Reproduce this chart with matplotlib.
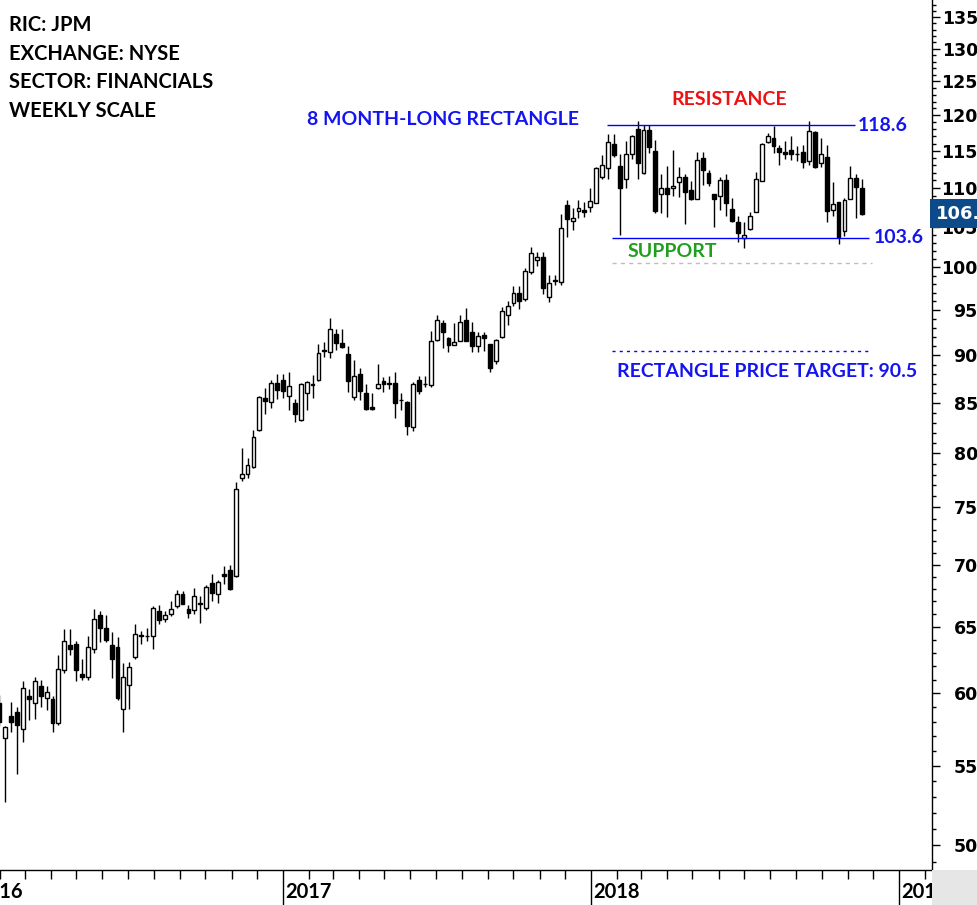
import datetime as dt
import matplotlib
matplotlib.use("Agg")
import matplotlib.pyplot as plt
import matplotlib.dates as mdates
import matplotlib.transforms as mtransforms
from matplotlib.patches import Rectangle
from matplotlib.ticker import FixedLocator, NullFormatter

# Weekly JPM candles, first bar is the week of 2016-01-31
first_week = dt.date(2016, 1, 31)

opens = [59.3, 56.85, 58.4, 58.7, 57.5, 59.8, 59.3, 60.5, 59.7, 59.6,
         57.9, 61.7, 63.6, 63.7, 61.4, 61.2, 63.3, 65.9, 64.9, 63.6,
         63.4, 58.9, 60.6, 62.7, 64.35, 64.3, 64.3, 66.2, 65.6, 66.0,
         66.6, 67.6, 66.4, 66.3, 66.8, 66.5, 68.5, 67.6, 69.2, 69.6,
         69.1, 77.7, 78.1, 78.7, 82.3, 85.5, 85.1, 87.1, 87.4, 85.7,
         85.0, 83.3, 86.0, 86.8, 87.4, 90.55, 90.3, 92.3, 91.3, 90.1,
         85.6, 88.0, 86.0, 84.55, 86.5, 87.3, 87.05, 87.05, 85.3, 85.1,
         82.6, 87.35, 86.9, 86.8, 91.7, 93.5, 91.9, 91.15, 91.6, 93.9,
         92.5, 91.0, 92.25, 91.2, 89.4, 92.0, 94.5, 95.8, 97.0, 96.3,
         99.4, 100.9, 101.3, 96.55, 98.4, 98.3, 107.75, 105.75, 107.0, 107.15,
         107.5, 108.0, 111.5, 112.6, 116.0, 112.9, 111.2, 114.5, 118.1, 112.0,
         117.9, 115.0, 109.2, 110.0, 109.95, 110.8, 111.5, 109.7, 108.55, 114.0,
         112.0, 109.2, 108.9, 111.06, 107.3, 105.6, 103.6, 104.65, 106.9, 110.95,
         116.2, 116.8, 115.4, 114.8, 115.1, 114.55, 114.8, 113.6, 117.6, 113.3,
         114.2, 107.15, 108.2, 104.4, 108.5, 111.3, 109.95]

highs = [59.9, 57.7, 59.4, 59.0, 60.9, 60.3, 61.2, 61.0, 60.5, 59.8,
         62.8, 64.8, 64.8, 63.9, 62.5, 64.3, 66.4, 66.2, 65.9, 64.6,
         64.2, 62.2, 62.3, 65.2, 64.7, 64.9, 66.6, 66.7, 66.2, 67.0,
         67.9, 67.8, 66.7, 68.1, 67.4, 68.3, 69.2, 68.7, 69.9, 70.0,
         77.3, 80.5, 79.6, 82.3, 85.7, 86.5, 87.4, 88.0, 88.0, 88.2,
         85.4, 87.1, 87.3, 87.9, 91.2, 91.4, 94.1, 92.9, 92.9, 91.0,
         89.5, 88.6, 87.0, 86.0, 89.1, 87.7, 87.8, 88.2, 86.0, 85.2,
         87.15, 87.8, 87.8, 92.7, 94.5, 93.9, 92.0, 93.6, 94.4, 95.2,
         93.7, 92.6, 92.5, 91.2, 91.8, 95.4, 96.0, 97.8, 97.8, 99.9,
         102.5, 101.9, 101.9, 99.1, 99.1, 106.65, 108.4, 107.4, 108.4, 108.2,
         110.0, 112.75, 114.4, 117.3, 117.3, 114.6, 116.35, 117.2, 119.2, 118.6,
         118.6, 116.5, 111.8, 112.9, 115.1, 112.75, 111.8, 110.9, 114.8, 114.8,
         112.4, 109.2, 111.5, 111.8, 108.65, 106.3, 105.6, 106.9, 112.15, 116.1,
         117.5, 118.5, 115.8, 116.3, 117.0, 115.7, 115.8, 119.2, 117.7, 116.8,
         115.8, 110.8, 108.2, 108.65, 112.9, 111.9, 111.15]

lows = [57.7, 52.7, 57.3, 54.5, 56.6, 58.1, 58.2, 59.0, 58.8, 57.3,
        57.8, 61.5, 62.8, 60.9, 61.0, 61.0, 63.0, 63.8, 63.8, 61.1,
        59.5, 57.3, 58.9, 62.5, 63.7, 63.9, 63.3, 65.2, 65.4, 65.8,
        66.5, 66.8, 65.7, 66.0, 65.3, 66.3, 67.0, 66.9, 68.4, 67.9,
        69.0, 77.4, 77.7, 78.6, 82.2, 83.9, 84.5, 85.4, 85.5, 84.3,
        83.1, 83.2, 84.3, 85.5, 87.3, 89.8, 89.7, 90.6, 90.8, 86.1,
        85.3, 85.3, 84.3, 84.3, 86.45, 86.1, 86.45, 83.5, 84.3, 81.8,
        82.2, 85.9, 86.6, 86.6, 91.6, 90.8, 90.4, 91.1, 91.55, 91.5,
        90.4, 90.4, 90.5, 88.2, 89.05, 91.9, 93.3, 95.5, 95.1, 96.06,
        99.2, 100.2, 96.9, 95.9, 97.9, 97.9, 103.7, 104.6, 106.1, 106.25,
        106.9, 108.0, 111.2, 111.2, 114.2, 104.0, 110.0, 113.9, 111.2, 111.8,
        114.7, 106.8, 106.7, 106.2, 108.9, 108.8, 105.3, 108.4, 108.5, 110.4,
        110.2, 105.0, 107.15, 106.3, 105.6, 103.1, 102.3, 104.6, 106.85, 110.9,
        116.1, 114.7, 113.0, 113.9, 113.8, 113.6, 112.7, 113.1, 112.6, 112.85,
        105.65, 106.3, 102.85, 103.8, 108.5, 106.1, 106.45]

closes = [58.0, 57.6, 58.0, 57.8, 60.4, 59.6, 60.9, 59.8, 60.1, 57.9,
          61.8, 63.9, 63.3, 61.7, 61.2, 63.4, 65.6, 64.9, 64.0, 62.5,
          59.7, 61.2, 61.9, 64.4, 64.3, 64.25, 66.5, 65.5, 65.9, 66.4,
          67.6, 66.8, 66.1, 67.4, 66.9, 68.2, 67.7, 68.6, 69.1, 68.0,
          76.7, 78.1, 78.9, 81.6, 85.6, 85.2, 87.1, 86.3, 86.2, 86.7,
          83.9, 87.0, 87.2, 87.0, 90.2, 90.45, 92.9, 91.3, 90.9, 87.3,
          87.8, 86.2, 84.4, 84.4, 87.0, 86.9, 86.9, 85.0, 85.35, 82.7,
          87.0, 86.2, 87.0, 91.5, 93.9, 92.5, 91.1, 91.4, 93.7, 91.6,
          91.0, 92.1, 91.9, 88.6, 91.65, 94.9, 95.5, 97.0, 96.0, 99.55,
          101.75, 101.3, 97.6, 98.1, 98.45, 104.85, 106.0, 106.1, 107.4, 106.9,
          108.3, 112.6, 113.0, 116.2, 114.4, 110.0, 114.5, 117.0, 113.4, 117.9,
          115.5, 107.05, 110.0, 109.2, 110.3, 111.4, 109.4, 108.5, 113.75, 112.4,
          110.7, 108.5, 111.06, 108.0, 105.7, 104.25, 104.0, 106.4, 111.15, 115.9,
          117.1, 115.7, 114.8, 114.55, 114.6, 114.5, 113.5, 117.8, 112.85, 114.6,
          107.05, 107.9, 103.65, 108.45, 111.3, 110.1, 106.65]

# chart levels
resistance = 118.6
support = 103.6
price_target = 90.5
stop_level = 100.5

info_lines = ["RIC: JPM", "EXCHANGE: NYSE", "SECTOR: FINANCIALS", "WEEKLY SCALE"]
y_major = list(range(50, 140, 5))
years = [2016, 2017, 2018, 2019]

BLUE = "#1414f0"
FONT = ["Lato", "DejaVu Sans"]


def d(y, m, day, h=0):
    return mdates.date2num(dt.datetime(y, m, day, h))


def draw_chart():
    fig = plt.figure(figsize=(9.78, 9.05), dpi=100)
    ax = fig.add_axes([0, 35 / 905, 932 / 978, 870 / 905])

    x = mdates.date2num([first_week + dt.timedelta(weeks=i) for i in range(len(opens))])

    ax.set_yscale("log")
    ax.set_ylim(48.55, 137.8)
    ax.set_xlim(d(2016, 1, 31, 19), d(2019, 2, 8, 17))

    # candles: wicks first, bodies on top
    ax.vlines(x, lows, highs, color="black", lw=1.0, zorder=2)
    bottoms = [min(o, c) for o, c in zip(opens, closes)]
    heights = [max(abs(c - o), 0.04) for o, c in zip(opens, closes)]
    faces = ["white" if c >= o else "black" for o, c in zip(opens, closes)]
    ax.bar(x, heights, bottom=bottoms, width=4.6, color=faces,
           edgecolor="black", linewidth=1.0, zorder=3)

    # rectangle lines
    ax.hlines(resistance, d(2018, 1, 20), d(2018, 11, 9), color="#0000ff", lw=1.0, zorder=4)
    ax.hlines(support, d(2018, 1, 26), d(2018, 11, 26), color="#0000ff", lw=1.0, zorder=4)
    ax.hlines(stop_level, d(2018, 1, 26), d(2018, 11, 30), color="#bdbdbd", lw=1.0,
              linestyles=(0, (3, 3)), zorder=1)
    ax.hlines(price_target, d(2018, 1, 26), d(2018, 11, 30), color="#0000ff", lw=1.0,
              linestyles=(0, (2.2, 3)), zorder=1)

    txt = dict(fontfamily=FONT, fontweight="bold", fontsize=14)
    ax.text(d(2017, 12, 18), resistance, "8 MONTH-LONG RECTANGLE", color=BLUE,
            ha="right", va="baseline", **txt)
    ax.text(d(2018, 6, 13), 121.5, "RESISTANCE", color="#ee1111", ha="center",
            va="baseline", **txt)
    ax.text(d(2018, 11, 13), resistance, f"{resistance:.1f}", color=BLUE,
            ha="left", va="center", **txt)
    ax.text(d(2018, 12, 2), support, f"{support:.1f}", color=BLUE,
            ha="left", va="center", **txt)
    ax.text(d(2018, 2, 13), 101.25, "SUPPORT", color="#1f9e1f", ha="left",
            va="baseline", **txt)
    ax.text(d(2018, 2, 1), 87.7, f"RECTANGLE PRICE TARGET: {price_target}", color=BLUE,
            ha="left", va="baseline", **txt)

    for k, line in enumerate(info_lines):
        fig.text(9 / 978, 1 - (30.7 + 28.9 * k) / 905, line, color="black",
                 ha="left", va="baseline", fontfamily=FONT, fontweight="bold",
                 fontsize=14.5)

    # axes frame
    for side in ("left", "top"):
        ax.spines[side].set_visible(False)
    ax.spines["right"].set_linewidth(1.0)
    ax.spines["bottom"].set_linewidth(1.0)

    # price axis on the right, labels flush with the right edge
    ax.yaxis.tick_right()
    ax.yaxis.set_major_locator(FixedLocator(y_major))
    ax.yaxis.set_minor_locator(FixedLocator([v for v in range(49, 138) if v % 5]))
    ax.yaxis.set_minor_formatter(NullFormatter())
    ax.tick_params(axis="y", which="major", length=6, width=1, pad=27.0,
                   direction="out")
    ax.tick_params(axis="y", which="minor", length=3, width=1, direction="out")
    ax.set_yticklabels([str(v) for v in y_major], fontfamily="DejaVu Sans",
                       fontweight="bold", fontsize=12.5, ha="right")

    # time axis: long year ticks, monthly minor ticks, labels drawn by hand
    ax.xaxis.set_major_locator(mdates.YearLocator())
    ax.xaxis.set_minor_locator(mdates.MonthLocator())
    ax.xaxis.set_major_formatter(NullFormatter())
    ax.tick_params(axis="x", which="major", length=26, width=1, direction="out")
    ax.tick_params(axis="x", which="minor", length=6.5, width=1, direction="out")
    lab_trans = mtransforms.offset_copy(ax.get_xaxis_transform(), fig=fig,
                                        x=2, y=-22, units="dots")
    for yr in years:
        ax.text(d(yr, 1, 1), 0, str(yr), transform=lab_trans, ha="left",
                va="center", clip_on=False, fontfamily=FONT, fontweight="bold",
                fontsize=14.5)

    # last price tag (cut by the figure edge, as in the source chart)
    tag_trans = mtransforms.offset_copy(ax.get_yaxis_transform(), fig=fig,
                                        x=4, y=0, units="dots")
    ax.text(1.0, closes[-1], f"{closes[-1]:.2f}", transform=tag_trans,
            ha="left", va="center", color="white", fontsize=13,
            fontweight="bold", fontfamily="DejaVu Sans", clip_on=False, zorder=6,
            bbox=dict(boxstyle="square,pad=0.32", fc="#0c4a8a", ec="none"))

    # grey corner under the price axis
    fig.patches.append(Rectangle((932 / 978, 0), 46 / 978, 35 / 905,
                                 transform=fig.transFigure, facecolor="#e6e6e6",
                                 edgecolor="none", zorder=5))

    fig.savefig("out.png", dpi=100)


if __name__ == "__main__":
    draw_chart()
